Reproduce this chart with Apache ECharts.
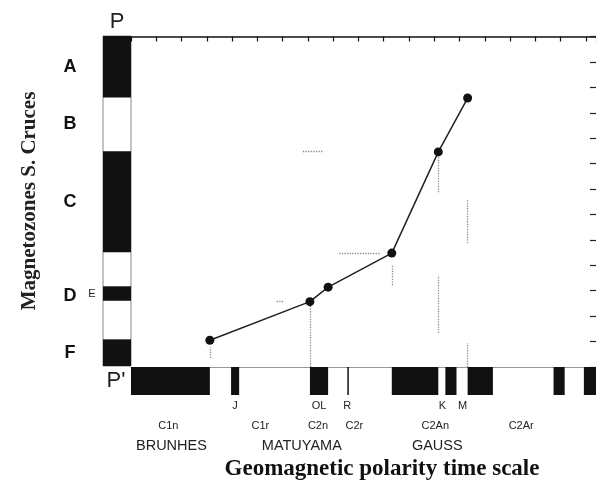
<!DOCTYPE html>
<html>
<head>
<meta charset="utf-8">
<script src="https://cdn.jsdelivr.net/npm/echarts@6/dist/echarts.min.js"></script>
<style>
  html, body { margin: 0; padding: 0; background: #fff; }
  #chart { width: 596px; height: 486px; }
</style>
</head>
<body>
<div id="chart"></div>
<script>
// Age axis (Ma) and stratigraphic height of the section
const ageMin = 0, ageMax = 4.6, ageStep = 0.25;
const heightMin = 0, heightMax = 130, heightStep = 10;

// Santa Cruces magnetozones (height bounds, N = normal / black)
const zoneNames    = ['A', 'B', 'C', 'D', 'E', 'F'];
const zoneBase     = [105.8, 84.6, 44.8, 10.5, 25.7, 0];
const zoneTop      = [130, 105.8, 84.6, 44.8, 31.4, 10.5];
const zonePolarity = ['N', 'R', 'N', 'R', 'N', 'N'];

// Normal-polarity intervals of the GPTS (Ma)
const chronStart = [0, 0.99, 1.77, 2.14, 2.58, 3.11, 3.33, 4.18, 4.48];
const chronEnd   = [0.78, 1.07, 1.95, 2.155, 3.04, 3.22, 3.58, 4.29, 4.62];

// Correlation tie points: age (Ma) vs height
const tieAge    = [0.78, 1.77, 1.95, 2.58, 3.04, 3.33];
const tieHeight = [10.5, 25.7, 31.4, 44.8, 84.6, 105.8];

// Uncertainty ranges (dotted)
const rangeV = [[0.78, 3.5, 7.9], [1.77, 0, 24.4], [2.58, 32.2, 40.1], [3.04, 68.7, 82.5],
                [3.04, 13.4, 36.1], [3.33, 48.7, 65.6], [3.33, 0, 9.4]];
const rangeH = [[44.8, 2.06, 2.46], [25.7, 1.44, 1.51], [85.0, 1.70, 1.90]];

// GPTS labels
const eventNames  = ['J', 'OL', 'R', 'K', 'M'];
const eventAges   = [1.03, 1.86, 2.14, 3.08, 3.28];
const chronNames  = ['C1n', 'C1r', 'C2n', 'C2r', 'C2An', 'C2Ar'];
const chronAges   = [0.37, 1.28, 1.85, 2.21, 3.01, 3.86];
const epochNames  = ['BRUNHES', 'MATUYAMA', 'GAUSS'];
const epochAges   = [0.40, 1.69, 3.03];

const chart = echarts.init(document.getElementById('chart'), null, { renderer: 'canvas' });

const sans = 'Liberation Sans, Arial, sans-serif';
const serif = 'Liberation Serif, Times New Roman, serif';

const zoneData = zoneNames.map((n, i) => [zoneBase[i], zoneTop[i], zonePolarity[i] === 'N' ? 1 : 0, n]);
const chronData = chronStart.map((s, i) => [s, chronEnd[i]]);

function rowLabels(names, ages, row) {
  return names.map((n, i) => [ages[i], row, n]);
}
const gptsLabels = rowLabels(eventNames, eventAges, 0)
  .concat(rowLabels(chronNames, chronAges, 1))
  .concat(rowLabels(epochNames, epochAges, 2));

const rangeLines = rangeV.map(r => ({ coords: [[r[0], r[1]], [r[0], r[2]]] }))
  .concat(rangeH.map(r => ({ coords: [[r[1], r[0]], [r[2], r[0]]] })));

const option = {
  animation: false,
  backgroundColor: '#fff',
  grid: [
    { left: 131, right: -1, top: 36.5, bottom: 119 },                 // main plot
    { left: 103, width: 28, top: 36, bottom: 120, show: true,
      borderColor: '#888', borderWidth: 1, backgroundColor: '#fff' }, // magnetozone column
    { left: 131, right: -1, top: 367, height: 28 }                    // GPTS bar
  ],
  xAxis: [
    { gridIndex: 0, type: 'value', position: 'top', min: ageMin, max: ageMax, interval: ageStep,
      axisLine: { show: true, onZero: false, lineStyle: { color: '#111', width: 1.5 } },
      axisTick: { show: true, inside: true, length: 5, lineStyle: { color: '#111', width: 1.2 } },
      axisLabel: { show: false }, splitLine: { show: false } },
    { gridIndex: 0, type: 'value', position: 'bottom', min: ageMin, max: ageMax,
      axisLine: { show: true, onZero: false, lineStyle: { color: '#999', width: 1 } },
      axisTick: { show: false }, axisLabel: { show: false }, splitLine: { show: false } },
    { gridIndex: 1, type: 'value', min: 0, max: 1, show: false },
    { gridIndex: 2, type: 'value', min: ageMin, max: ageMax, show: false }
  ],
  yAxis: [
    { gridIndex: 0, type: 'value', position: 'right', min: heightMin, max: heightMax, interval: heightStep,
      axisLine: { show: false, onZero: false },
      axisTick: { show: true, inside: true, length: 6, lineStyle: { color: '#222', width: 1.2 } },
      axisLabel: { show: false }, splitLine: { show: false } },
    { gridIndex: 1, type: 'value', min: heightMin, max: heightMax, show: false },
    { gridIndex: 2, type: 'value', min: 0, max: 1, show: false }
  ],
  series: [
    { // magnetozone blocks + letters
      type: 'custom', xAxisIndex: 2, yAxisIndex: 1, clip: false, data: zoneData,
      renderItem: function (params, api) {
        const lo = api.value(0), hi = api.value(1), black = api.value(2);
        const name = zoneNames[params.dataIndex];
        const p0 = api.coord([0, hi]), p1 = api.coord([1, lo]);
        const mid = api.coord([0, (lo + hi) / 2]);
        const children = [];
        if (black) {
          children.push({ type: 'rect', shape: { x: p0[0], y: p0[1], width: p1[0] - p0[0], height: p1[1] - p0[1] },
            style: { fill: '#111' } });
        }
        if (name === 'E') {
          children.push({ type: 'text', x: p0[0] - 11, y: mid[1],
            style: { text: name, fontFamily: sans, fontSize: 11, fill: '#222', align: 'center', verticalAlign: 'middle' } });
        } else {
          children.push({ type: 'text', x: p0[0] - 33, y: mid[1],
            style: { text: name, fontFamily: sans, fontWeight: 'bold', fontSize: 18, fill: '#111', align: 'center', verticalAlign: 'middle' } });
        }
        return { type: 'group', children: children };
      }
    },
    { // GPTS normal chrons
      type: 'custom', xAxisIndex: 3, yAxisIndex: 2, data: chronData, clip: false,
      renderItem: function (params, api) {
        const a = api.coord([api.value(0), 1]), b = api.coord([api.value(1), 0]);
        return { type: 'rect', shape: { x: a[0], y: a[1], width: Math.max(b[0] - a[0], 1.5), height: b[1] - a[1] },
          style: { fill: '#111' } };
      }
    },
    { // GPTS labels
      type: 'custom', xAxisIndex: 3, yAxisIndex: 2, data: gptsLabels, clip: false,
      renderItem: function (params, api) {
        const row = api.value(1);
        const base = api.coord([api.value(0), 0]);
        const dy = [11, 31, 51][row];
        const size = [11, 11, 14.5][row];
        return { type: 'text', x: base[0], y: base[1] + dy,
          style: { text: gptsLabels[params.dataIndex][2], fontFamily: sans, fontSize: size, fill: '#222',
            align: 'center', verticalAlign: 'middle' } };
      }
    },
    { // uncertainty ranges
      type: 'lines', coordinateSystem: 'cartesian2d', xAxisIndex: 0, yAxisIndex: 0,
      data: rangeLines, silent: true,
      lineStyle: { color: '#8a8a8a', width: 1.3, type: 'dotted', opacity: 1 }
    },
    { // age-height correlation
      type: 'line', xAxisIndex: 0, yAxisIndex: 0,
      data: tieAge.map((a, i) => [a, tieHeight[i]]),
      symbol: 'circle', symbolSize: 9, showSymbol: true,
      itemStyle: { color: '#111' },
      lineStyle: { color: '#222', width: 1.5 },
      z: 5
    }
  ],
  graphic: [
    { type: 'text', x: 117, y: 22, style: { text: 'P', fontFamily: sans, fontSize: 22, fill: '#222', align: 'center', verticalAlign: 'middle' } },
    { type: 'text', x: 116, y: 381, style: { text: "P'", fontFamily: sans, fontSize: 22, fill: '#222', align: 'center', verticalAlign: 'middle' } },
    { type: 'text', x: 30, y: 201, rotation: Math.PI / 2,
      style: { text: 'Magnetozones S. Cruces', fontFamily: serif, fontWeight: 'bold', fontSize: 21, fill: '#222', align: 'center', verticalAlign: 'middle' } },
    { type: 'text', x: 382, y: 469,
      style: { text: 'Geomagnetic polarity time scale', fontFamily: serif, fontWeight: 'bold', fontSize: 23, fill: '#111', align: 'center', verticalAlign: 'middle' } }
  ]
};

chart.setOption(option);
</script>
</body>
</html>
